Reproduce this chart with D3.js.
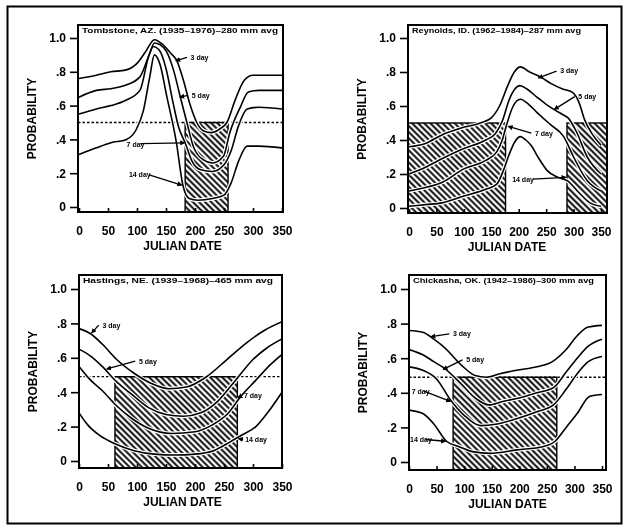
<!DOCTYPE html>
<html>
<head>
<meta charset="utf-8">
<script src="https://cdn.jsdelivr.net/npm/d3@7/dist/d3.min.js"></script>
<style>
body { margin: 0; background: #fff; }
svg { display: block; font-family: "Liberation Sans", Arial, sans-serif; font-weight: bold; will-change: transform; }
</style>
</head>
<body>
<div id="chart"></div>
<script>
var width = 629, height = 529;

// [julian date, probability]
var tombstone3 = [[0,.76],[30,.78],[55,.80],[80,.81],[100,.85],[115,.92],[130,.99],[145,.96],[158,.91],[168,.87],[180,.75],[192,.60],[203,.50],[215,.45],[228,.44],[242,.46],[255,.50],[270,.64],[285,.75],[300,.78],[325,.78],[350,.78]];
var tombstone5 = [[0,.65],[30,.69],[55,.70],[80,.72],[105,.77],[122,.91],[130,.97],[140,.96],[151,.92],[163,.81],[174,.66],[186,.50],[197,.36],[214,.28],[230,.26],[249,.30],[260,.44],[278,.59],[292,.68],[310,.69],[350,.69]];
var tombstone7 = [[0,.55],[30,.58],[55,.60],[80,.63],[105,.69],[120,.89],[128,.95],[138,.93],[150,.82],[162,.62],[172,.47],[183,.38],[195,.27],[210,.22],[230,.21],[250,.25],[262,.33],[275,.48],[290,.58],[310,.59],[350,.58]];
var tombstone14 = [[0,.31],[30,.35],[55,.38],[82,.40],[99,.46],[111,.57],[122,.77],[130,.90],[140,.84],[151,.66],[168,.38],[179,.13],[190,.05],[205,.04],[230,.05],[250,.07],[262,.14],[275,.27],[290,.36],[310,.36],[350,.35]];

var reynolds3 = [[0,.36],[30,.38],[60,.43],[95,.47],[130,.50],[150,.53],[165,.60],[180,.72],[192,.80],[203,.83],[220,.80],[240,.77],[260,.73],[280,.70],[298,.68],[310,.62],[320,.52],[335,.43],[350,.37]];
var reynolds5 = [[0,.20],[30,.24],[60,.29],[100,.35],[140,.40],[158,.44],[170,.51],[183,.64],[193,.70],[202,.72],[215,.70],[234,.65],[250,.61],[264,.58],[280,.55],[290,.53],[305,.45],[325,.30],[350,.20]];
var reynolds7 = [[0,.10],[30,.12],[60,.15],[100,.23],[140,.28],[160,.33],[170,.40],[178,.49],[190,.60],[203,.64],[218,.61],[234,.56],[258,.49],[282,.42],[300,.30],[325,.16],[350,.10]];
var reynolds14 = [[0,.01],[30,.02],[60,.03],[100,.07],[140,.11],[160,.14],[172,.22],[182,.31],[193,.39],[203,.42],[213,.40],[222,.37],[237,.29],[252,.22],[272,.18],[289,.16],[310,.09],[330,.03],[350,.01]];

var hastings3 = [[0,.77],[20,.74],[40,.68],[65,.59],[95,.51],[125,.45],[155,.42],[185,.43],[220,.49],[255,.59],[290,.69],[320,.76],[350,.81]];
var hastings5 = [[0,.65],[20,.61],[40,.55],[65,.46],[90,.39],[120,.31],[150,.27],[180,.26],[210,.28],[240,.35],[270,.47],[300,.59],[325,.66],[350,.71]];
var hastings7 = [[0,.55],[20,.47],[40,.41],[62,.33],[90,.25],[120,.19],[160,.16],[200,.17],[230,.21],[255,.27],[280,.38],[305,.47],[330,.56],[350,.62]];
var hastings14 = [[0,.28],[15,.21],[35,.15],[62,.10],[95,.06],[130,.04],[165,.035],[200,.04],[232,.06],[260,.11],[280,.15],[305,.20],[325,.28],[350,.40]];

var chickasha3 = [[0,.76],[25,.75],[45,.71],[65,.66],[95,.56],[120,.50],[140,.49],[165,.51],[195,.53],[232,.55],[260,.58],[285,.65],[305,.73],[325,.78],[350,.79]];
var chickasha5 = [[0,.65],[25,.62],[45,.58],[65,.54],[95,.45],[120,.37],[145,.33],[170,.35],[200,.37],[232,.40],[262,.43],[285,.52],[305,.60],[325,.67],[350,.71]];
var chickasha7 = [[0,.55],[25,.53],[50,.48],[75,.36],[100,.27],[130,.21],[160,.22],[195,.25],[232,.29],[262,.33],[285,.42],[305,.51],[325,.58],[350,.61]];
var chickasha14 = [[0,.30],[25,.28],[45,.22],[68,.12],[90,.09],[115,.06],[147,.05],[196,.07],[244,.09],[265,.12],[285,.20],[305,.28],[328,.38],[350,.39]];

var titles = [
	"Tombstone, AZ. (1935\u20131976)\u2013280 mm avg",
	"Reynolds, ID. (1962\u20131984)\u2013287 mm avg",
	"Hastings, NE. (1939\u20131968)\u2013465 mm avg",
	"Chickasha, OK. (1942\u20131986)\u2013300 mm avg"
];
var seriesNames = ["3 day", "5 day", "7 day", "14 day"];
var thresholds = [0.5, 0.5, 0.49, 0.49];
// julian date ranges of the hatched (below threshold) windows
var hatched = [ [[183,257]], [[-10,176],[288,370]], [[62,273]], [[80,268]] ];
var xTicks = [0, 50, 100, 150, 200, 250, 300, 350];
var yTicks = [0, .2, .4, .6, .8, 1];
var yTickLabels = ["0", ".2", ".4", ".6", ".8", "1.0"];

// label text anchor [day, prob], leader start, leader tip
var labels = [
	[[189,.885],[186,.885],[167,.865], [191,.66],[188,.66],[174,.65], [82,.37],[106,.375],[182,.38], [86,.19],[121,.19],[177,.13]],
	[[272,.81],[269,.805],[236,.765], [305,.655],[302,.655],[265,.58], [226,.44],[223,.44],[181,.48], [188,.17],[226,.17],[286,.18]],
	[[37,.79],[34,.79],[22,.745], [100,.58],[97,.58],[48,.535], [281,.38],[281,.38],[274,.37], [283,.125],[283,.125],[275,.13]],
	[[76,.74],[73,.74],[40,.725], [100,.59],[97,.59],[62,.535], [5,.41],[27,.41],[75,.35], [2,.13],[30,.13],[66,.12]]
];

var panelSeries = [
	[tombstone3, tombstone5, tombstone7, tombstone14],
	[reynolds3, reynolds5, reynolds7, reynolds14],
	[hastings3, hastings5, hastings7, hastings14],
	[chickasha3, chickasha5, chickasha7, chickasha14]
];

// box edges and where 0/350 and 0/1.0 fall
var layout = [
	{left:78, top:25, right:283, bottom:212, x0:79, x1:282, y0:207, y1:38, titleW:196},
	{left:408, top:25, right:607, bottom:213, x0:409, x1:601, y0:208, y1:38, titleW:169},
	{left:79, top:275, right:282, bottom:468, x0:79, x1:282, y0:461, y1:289, titleW:190},
	{left:409, top:275, right:606, bottom:470, x0:409, x1:602, y0:462, y1:289, titleW:181}
];

var svg = d3.select("#chart").append("svg")
	.attr("width", width)
	.attr("height", height);

var defs = svg.append("defs");
var pat = defs.append("pattern")
	.attr("id", "hatch")
	.attr("patternUnits", "userSpaceOnUse")
	.attr("width", 4.3)
	.attr("height", 4.3)
	.attr("patternTransform", "rotate(-45)");
pat.append("line")
	.attr("x1", 2.15).attr("y1", -1).attr("x2", 2.15).attr("y2", 5.3)
	.attr("stroke", "#000").attr("stroke-width", 1.9);

defs.append("marker")
	.attr("id", "tip")
	.attr("viewBox", "0 0 6 6")
	.attr("refX", 5).attr("refY", 3)
	.attr("markerWidth", 4).attr("markerHeight", 4)
	.attr("orient", "auto")
	.append("path")
	.attr("d", "M0,0 L6,3 L0,6 Z")
	.attr("fill", "#000");

svg.append("rect")
	.attr("x", 7.5).attr("y", 6.5)
	.attr("width", 614).attr("height", 517)
	.attr("fill", "none")
	.attr("stroke", "#000")
	.attr("stroke-width", 2);

layout.forEach(function(L, i) {
	drawPanel(L, i);
});

function drawPanel(L, i) {
	var x = d3.scaleLinear().domain([0, 350]).range([L.x0, L.x1]);
	var y = d3.scaleLinear().domain([0, 1]).range([L.y0, L.y1]);
	var g = svg.append("g");

	defs.append("clipPath").attr("id", "clip" + i)
		.append("rect")
		.attr("x", L.left).attr("y", L.top)
		.attr("width", L.right - L.left).attr("height", L.bottom - L.top);

	var inner = g.append("g").attr("clip-path", "url(#clip" + i + ")");

	// hatched windows
	inner.selectAll(".hatch")
		.data(hatched[i])
		.enter().append("rect")
		.attr("class", "hatch")
		.attr("x", function(d) { return Math.max(L.left, x(d[0])); })
		.attr("y", y(thresholds[i]))
		.attr("width", function(d) { return Math.min(L.right, x(d[1])) - Math.max(L.left, x(d[0])); })
		.attr("height", L.bottom - y(thresholds[i]))
		.attr("fill", "url(#hatch)")
		.attr("stroke", "#000")
		.attr("stroke-width", 1.4);

	if (i != 1) {
		inner.append("line")
			.attr("x1", L.left).attr("x2", L.right)
			.attr("y1", y(thresholds[i])).attr("y2", y(thresholds[i]))
			.attr("stroke", "#000")
			.attr("stroke-width", 1.3)
			.attr("stroke-dasharray", "2.5,2");
	}

	var line = d3.line()
		.x(function(d) { return x(d[0]); })
		.y(function(d) { return y(d[1]); })
		.curve(d3.curveMonotoneX);

	inner.selectAll(".halo")
		.data(panelSeries[i])
		.enter().append("path")
		.attr("class", "halo")
		.attr("d", line)
		.attr("fill", "none")
		.attr("stroke", "#fff")
		.attr("stroke-width", 4);

	inner.selectAll(".curve")
		.data(panelSeries[i])
		.enter().append("path")
		.attr("class", "curve")
		.attr("d", line)
		.attr("fill", "none")
		.attr("stroke", "#000")
		.attr("stroke-width", 1.6);

	// curve labels with leaders
	var lab = labels[i];
	seriesNames.forEach(function(name, k) {
		var t = lab[k*3], s = lab[k*3+1], e = lab[k*3+2];
		inner.append("line")
			.attr("x1", x(s[0])).attr("y1", y(s[1]))
			.attr("x2", x(e[0])).attr("y2", y(e[1]))
			.attr("stroke", "#000")
			.attr("stroke-width", 1.3)
			.attr("marker-end", "url(#tip)");
		inner.append("text")
			.attr("x", x(t[0]) + (s[0] > t[0] ? 0 : 2))
			.attr("y", y(t[1]))
			.attr("dy", "0.35em")
			.attr("fill", "#000")
			.attr("font-size", 7)
			.text(name);
	});

	// title inside the box
	g.append("text")
		.attr("x", L.left + 4)
		.attr("y", L.top + 8)
		.attr("font-size", 7)
		.attr("textLength", L.titleW)
		.attr("lengthAdjust", "spacingAndGlyphs")
		.text(titles[i]);

	g.append("rect")
		.attr("x", L.left).attr("y", L.top)
		.attr("width", L.right - L.left).attr("height", L.bottom - L.top)
		.attr("fill", "none")
		.attr("stroke", "#000")
		.attr("stroke-width", 2);

	var yAxis = g.append("g")
		.attr("transform", "translate(" + L.left + ",0)")
		.call(d3.axisLeft(y).tickValues(yTicks)
			.tickFormat(function(d, j) { return yTickLabels[j]; })
			.tickSize(8).tickPadding(4));
	yAxis.select(".domain").remove();

	var xAxis = g.append("g")
		.attr("transform", "translate(0," + L.bottom + ")")
		.call(d3.axisBottom(x).tickValues(xTicks)
			.tickFormat(d3.format("d"))
			.tickSize(-4).tickPadding(14));
	xAxis.select(".domain").remove();

	g.selectAll(".tick line").attr("stroke", "#000").attr("stroke-width", 1.6);
	g.selectAll(".tick text").attr("fill", "#000");
	[yAxis, xAxis].forEach(function(a) {
		a.attr("font-size", 12)
			.attr("font-family", "Liberation Sans, Arial, sans-serif")
			.attr("font-weight", "bold");
	});

	g.append("text")
		.attr("transform", "translate(" + (L.left - 42) + "," + ((L.top + L.bottom) / 2) + ") rotate(-90)")
		.attr("text-anchor", "middle")
		.attr("font-size", 12)
		.text("PROBABILITY");

	g.append("text")
		.attr("x", (L.x0 + L.x1) / 2 + 2)
		.attr("y", L.bottom + 38)
		.attr("text-anchor", "middle")
		.attr("font-size", 12)
		.text("JULIAN DATE");
}
</script>
</body>
</html>
